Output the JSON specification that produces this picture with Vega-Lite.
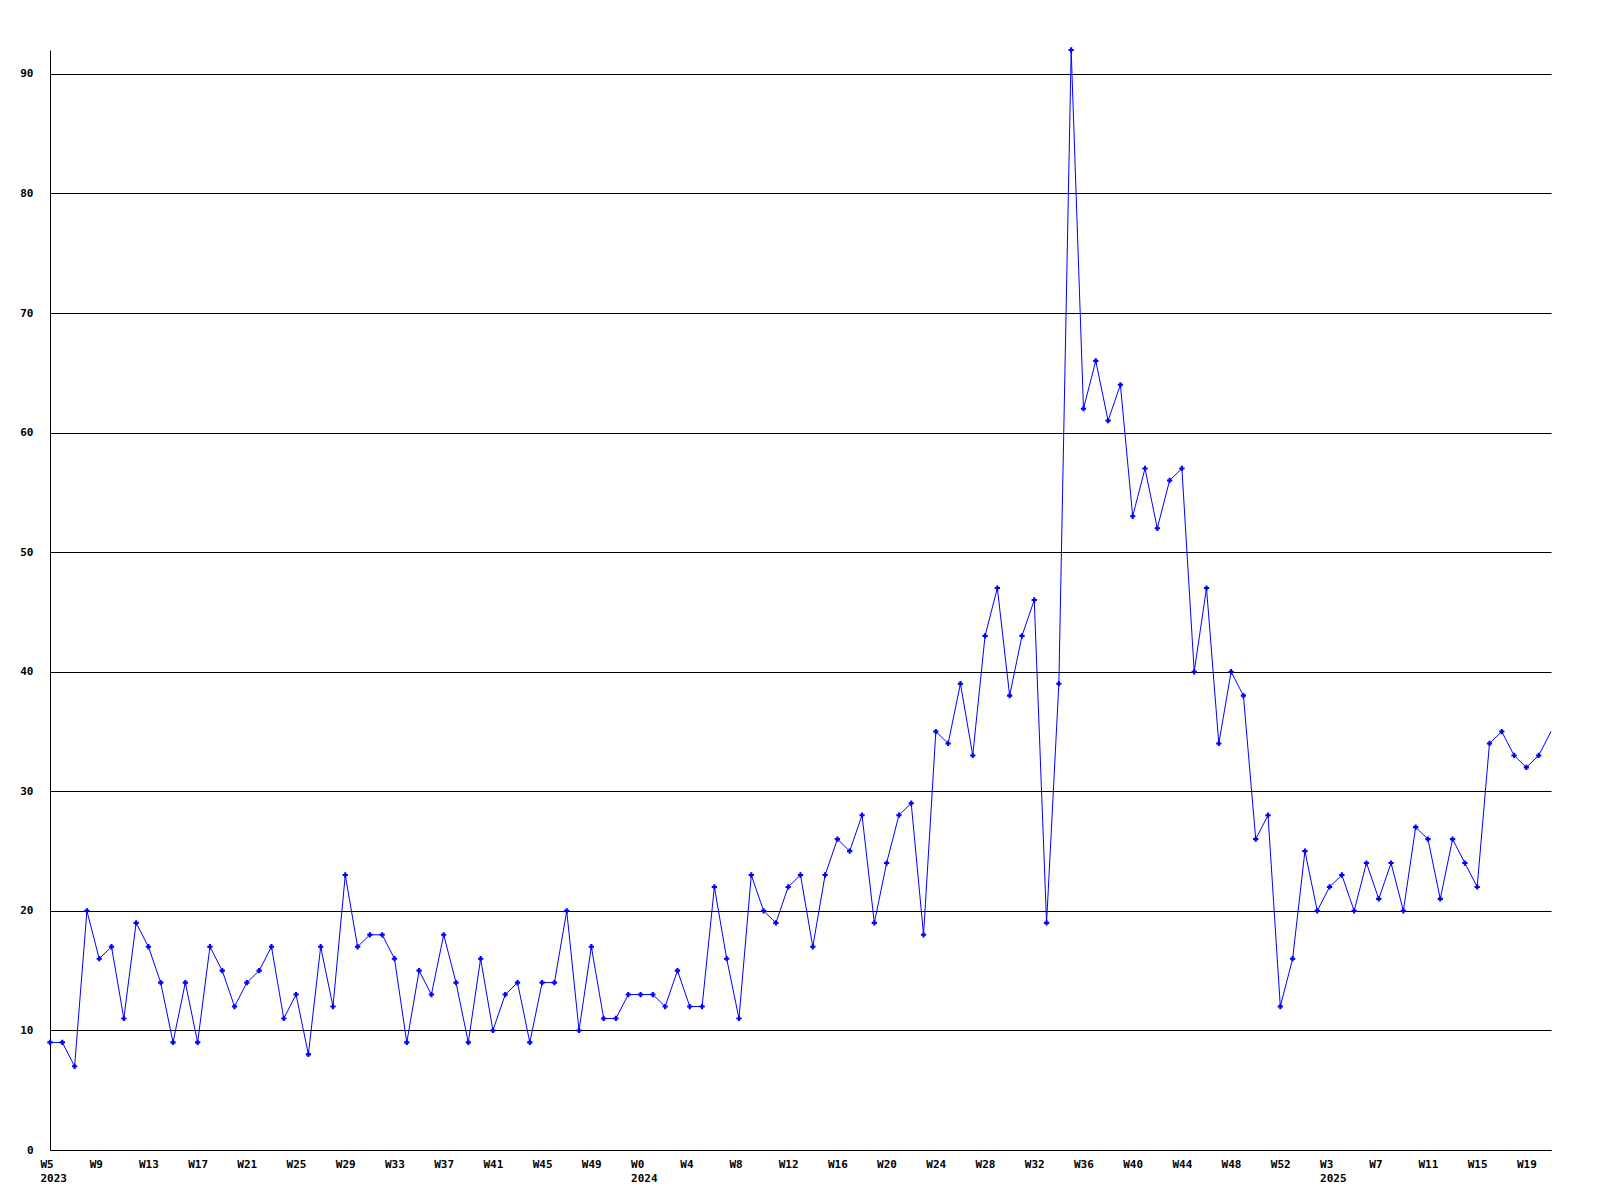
{
  "$schema": "https://vega.github.io/schema/vega-lite/v6.json",
  "width": 1501,
  "height": 1100,
  "autosize": "none",
  "padding": {"left": 50, "top": 50, "right": 49, "bottom": 50},
  "background": "white",
  "config": {"view": {"stroke": null}},
  "data": {"values": [
    {"i":0,"week":"2023 W5","count":9},{"i":1,"week":"2023 W6","count":9},{"i":2,"week":"2023 W7","count":7},{"i":3,"week":"2023 W8","count":20},
    {"i":4,"week":"2023 W9","count":16},{"i":5,"week":"2023 W10","count":17},{"i":6,"week":"2023 W11","count":11},{"i":7,"week":"2023 W12","count":19},
    {"i":8,"week":"2023 W13","count":17},{"i":9,"week":"2023 W14","count":14},{"i":10,"week":"2023 W15","count":9},{"i":11,"week":"2023 W16","count":14},
    {"i":12,"week":"2023 W17","count":9},{"i":13,"week":"2023 W18","count":17},{"i":14,"week":"2023 W19","count":15},{"i":15,"week":"2023 W20","count":12},
    {"i":16,"week":"2023 W21","count":14},{"i":17,"week":"2023 W22","count":15},{"i":18,"week":"2023 W23","count":17},{"i":19,"week":"2023 W24","count":11},
    {"i":20,"week":"2023 W25","count":13},{"i":21,"week":"2023 W26","count":8},{"i":22,"week":"2023 W27","count":17},{"i":23,"week":"2023 W28","count":12},
    {"i":24,"week":"2023 W29","count":23},{"i":25,"week":"2023 W30","count":17},{"i":26,"week":"2023 W31","count":18},{"i":27,"week":"2023 W32","count":18},
    {"i":28,"week":"2023 W33","count":16},{"i":29,"week":"2023 W34","count":9},{"i":30,"week":"2023 W35","count":15},{"i":31,"week":"2023 W36","count":13},
    {"i":32,"week":"2023 W37","count":18},{"i":33,"week":"2023 W38","count":14},{"i":34,"week":"2023 W39","count":9},{"i":35,"week":"2023 W40","count":16},
    {"i":36,"week":"2023 W41","count":10},{"i":37,"week":"2023 W42","count":13},{"i":38,"week":"2023 W43","count":14},{"i":39,"week":"2023 W44","count":9},
    {"i":40,"week":"2023 W45","count":14},{"i":41,"week":"2023 W46","count":14},{"i":42,"week":"2023 W47","count":20},{"i":43,"week":"2023 W48","count":10},
    {"i":44,"week":"2023 W49","count":17},{"i":45,"week":"2023 W50","count":11},{"i":46,"week":"2023 W51","count":11},{"i":47,"week":"2023 W52","count":13},
    {"i":48,"week":"2024 W0","count":13},{"i":49,"week":"2024 W1","count":13},{"i":50,"week":"2024 W2","count":12},{"i":51,"week":"2024 W3","count":15},
    {"i":52,"week":"2024 W4","count":12},{"i":53,"week":"2024 W5","count":12},{"i":54,"week":"2024 W6","count":22},{"i":55,"week":"2024 W7","count":16},
    {"i":56,"week":"2024 W8","count":11},{"i":57,"week":"2024 W9","count":23},{"i":58,"week":"2024 W10","count":20},{"i":59,"week":"2024 W11","count":19},
    {"i":60,"week":"2024 W12","count":22},{"i":61,"week":"2024 W13","count":23},{"i":62,"week":"2024 W14","count":17},{"i":63,"week":"2024 W15","count":23},
    {"i":64,"week":"2024 W16","count":26},{"i":65,"week":"2024 W17","count":25},{"i":66,"week":"2024 W18","count":28},{"i":67,"week":"2024 W19","count":19},
    {"i":68,"week":"2024 W20","count":24},{"i":69,"week":"2024 W21","count":28},{"i":70,"week":"2024 W22","count":29},{"i":71,"week":"2024 W23","count":18},
    {"i":72,"week":"2024 W24","count":35},{"i":73,"week":"2024 W25","count":34},{"i":74,"week":"2024 W26","count":39},{"i":75,"week":"2024 W27","count":33},
    {"i":76,"week":"2024 W28","count":43},{"i":77,"week":"2024 W29","count":47},{"i":78,"week":"2024 W30","count":38},{"i":79,"week":"2024 W31","count":43},
    {"i":80,"week":"2024 W32","count":46},{"i":81,"week":"2024 W33","count":19},{"i":82,"week":"2024 W34","count":39},{"i":83,"week":"2024 W35","count":92},
    {"i":84,"week":"2024 W36","count":62},{"i":85,"week":"2024 W37","count":66},{"i":86,"week":"2024 W38","count":61},{"i":87,"week":"2024 W39","count":64},
    {"i":88,"week":"2024 W40","count":53},{"i":89,"week":"2024 W41","count":57},{"i":90,"week":"2024 W42","count":52},{"i":91,"week":"2024 W43","count":56},
    {"i":92,"week":"2024 W44","count":57},{"i":93,"week":"2024 W45","count":40},{"i":94,"week":"2024 W46","count":47},{"i":95,"week":"2024 W47","count":34},
    {"i":96,"week":"2024 W48","count":40},{"i":97,"week":"2024 W49","count":38},{"i":98,"week":"2024 W50","count":26},{"i":99,"week":"2024 W51","count":28},
    {"i":100,"week":"2024 W52","count":12},{"i":101,"week":"2025 W0","count":16},{"i":102,"week":"2025 W1","count":25},{"i":103,"week":"2025 W2","count":20},
    {"i":104,"week":"2025 W3","count":22},{"i":105,"week":"2025 W4","count":23},{"i":106,"week":"2025 W5","count":20},{"i":107,"week":"2025 W6","count":24},
    {"i":108,"week":"2025 W7","count":21},{"i":109,"week":"2025 W8","count":24},{"i":110,"week":"2025 W9","count":20},{"i":111,"week":"2025 W10","count":27},
    {"i":112,"week":"2025 W11","count":26},{"i":113,"week":"2025 W12","count":21},{"i":114,"week":"2025 W13","count":26},{"i":115,"week":"2025 W14","count":24},
    {"i":116,"week":"2025 W15","count":22},{"i":117,"week":"2025 W16","count":34},{"i":118,"week":"2025 W17","count":35},{"i":119,"week":"2025 W18","count":33},
    {"i":120,"week":"2025 W19","count":32},{"i":121,"week":"2025 W20","count":33},{"i":122,"week":"2025 W21","count":35}
  ]},
  "encoding": {
    "x": {
      "field": "week", "type": "ordinal", "sort": null,
      "scale": {"type": "point", "padding": 0},
      "axis": {
        "title": null,
        "values": ["2023 W5","2023 W9","2023 W13","2023 W17","2023 W21","2023 W25","2023 W29","2023 W33","2023 W37","2023 W41","2023 W45","2023 W49",
                   "2024 W0","2024 W4","2024 W8","2024 W12","2024 W16","2024 W20","2024 W24","2024 W28","2024 W32","2024 W36","2024 W40","2024 W44","2024 W48","2024 W52",
                   "2025 W3","2025 W7","2025 W11","2025 W15","2025 W19"],
        "labelExpr": "indexof(['2023 W5','2024 W0','2025 W3'], datum.value) >= 0 ? [split(datum.value, ' ')[1], split(datum.value, ' ')[0]] : split(datum.value, ' ')[1]",
        "grid": false, "ticks": false,
        "domainColor": "black", "domainWidth": 1,
        "labelFont": "DejaVu Sans Mono", "labelFontWeight": "bold", "labelFontSize": 11, "labelColor": "black",
        "labelAngle": 0, "labelAlign": "left", "labelOffset": -10, "labelBaseline": "top", "labelPadding": 8,
        "labelLineHeight": 14, "labelOverlap": false, "labelFlush": false, "labelBound": false
      }
    },
    "y": {
      "field": "count", "type": "quantitative",
      "scale": {"domain": [0, 92], "nice": false, "zero": true},
      "axis": {
        "title": null,
        "values": [0,10,20,30,40,50,60,70,80,90],
        "grid": true, "gridColor": "black", "gridOpacity": 1, "gridWidth": 1,
        "ticks": false, "domainColor": "black", "domainWidth": 1,
        "labelFont": "DejaVu Sans Mono", "labelFontWeight": "bold", "labelFontSize": 11, "labelColor": "black",
        "labelPadding": 17, "labelBaseline": "middle", "labelOverlap": false, "labelFlush": false
      }
    }
  },
  "layer": [
    {"mark": {"type": "line", "color": "#0000ff", "strokeWidth": 1}},
    {"transform": [{"filter": "datum.i < 122"}],
     "mark": {"type": "point", "shape": "cross", "filled": true, "color": "#0000ff", "size": 28, "opacity": 1}}
  ]
}
